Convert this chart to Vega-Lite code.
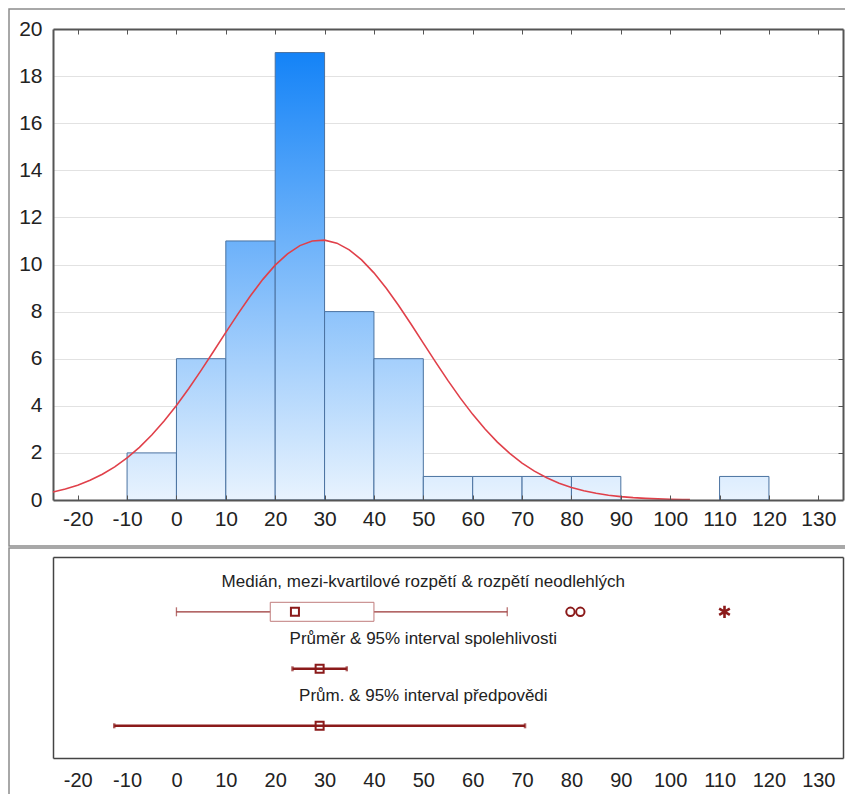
{
  "$schema": "https://vega.github.io/schema/vega-lite/v6.json",
  "background": "white",
  "padding": {"left": 8, "top": 8, "right": 0, "bottom": 0},
  "spacing": 0,
  "config": {
    "view": {"stroke": "#8c8c8c", "strokeWidth": 1.5},
    "font": "Liberation Sans, Arial, sans-serif",
    "axis": {
      "labelFont": "Liberation Sans, Arial, sans-serif",
      "labelColor": "#222222",
      "domainColor": "#555555",
      "tickColor": "#555555",
      "labelFlush": false,
      "labelOverlap": false,
      "labelExpr": "replace(datum.label, '\u2212', '-')"
    },
    "text": {"font": "Liberation Sans, Arial, sans-serif"}
  },
  "datasets": {
    "bins": [
      {"bin_start": -10, "bin_end": 0, "count": 2},
      {"bin_start": 0, "bin_end": 10, "count": 6},
      {"bin_start": 10, "bin_end": 20, "count": 11},
      {"bin_start": 20, "bin_end": 30, "count": 19},
      {"bin_start": 30, "bin_end": 40, "count": 8},
      {"bin_start": 40, "bin_end": 50, "count": 6},
      {"bin_start": 50, "bin_end": 60, "count": 1},
      {"bin_start": 60, "bin_end": 70, "count": 1},
      {"bin_start": 70, "bin_end": 80, "count": 1},
      {"bin_start": 80, "bin_end": 90, "count": 1},
      {"bin_start": 110, "bin_end": 120, "count": 1}
    ],
    "curve": [
      {"x": -25, "y": 0.342}, {"x": -22.5, "y": 0.467}, {"x": -20, "y": 0.629},
      {"x": -17.5, "y": 0.836}, {"x": -15, "y": 1.093}, {"x": -12.5, "y": 1.409},
      {"x": -10, "y": 1.789}, {"x": -7.5, "y": 2.238}, {"x": -5, "y": 2.761},
      {"x": -2.5, "y": 3.354}, {"x": 0, "y": 4.014}, {"x": 2.5, "y": 4.736},
      {"x": 5, "y": 5.505}, {"x": 7.5, "y": 6.306}, {"x": 10, "y": 7.117},
      {"x": 12.5, "y": 7.915}, {"x": 15, "y": 8.676}, {"x": 17.5, "y": 9.369},
      {"x": 20, "y": 9.971}, {"x": 22.5, "y": 10.454}, {"x": 25, "y": 10.802},
      {"x": 27.5, "y": 10.997}, {"x": 30, "y": 11.033}, {"x": 32.5, "y": 10.906},
      {"x": 35, "y": 10.624}, {"x": 37.5, "y": 10.198}, {"x": 40, "y": 9.646},
      {"x": 42.5, "y": 8.99}, {"x": 45, "y": 8.257}, {"x": 47.5, "y": 7.472},
      {"x": 50, "y": 6.663}, {"x": 52.5, "y": 5.855}, {"x": 55, "y": 5.069},
      {"x": 57.5, "y": 4.325}, {"x": 60, "y": 3.636}, {"x": 62.5, "y": 3.012},
      {"x": 65, "y": 2.459}, {"x": 67.5, "y": 1.978}, {"x": 70, "y": 1.568},
      {"x": 72.5, "y": 1.224}, {"x": 75, "y": 0.943}, {"x": 77.5, "y": 0.715},
      {"x": 80, "y": 0.534}, {"x": 82.5, "y": 0.393}, {"x": 85, "y": 0.285},
      {"x": 87.5, "y": 0.204}, {"x": 90, "y": 0.144}, {"x": 92.5, "y": 0.1},
      {"x": 95, "y": 0.068}, {"x": 97.5, "y": 0.046}, {"x": 100, "y": 0.031},
      {"x": 102.5, "y": 0.02}, {"x": 104, "y": 0.015}
    ],
    "stats": [
      {"stat": "box", "lo": 0, "q1": 19, "mid": 24, "q3": 40, "hi": 67, "label": "Medián, mezi-kvartilové rozpětí & rozpětí neodlehlých"},
      {"stat": "ci", "lo": 23.5, "mid": 29, "hi": 34.5, "label": "Průměr & 95% interval spolehlivosti"},
      {"stat": "pi", "lo": -12.6, "mid": 29, "hi": 70.6, "label": "Prům. & 95% interval předpovědi"}
    ],
    "outliers": [
      {"stat": "box", "value": 79.8, "kind": "outlier"},
      {"stat": "box", "value": 81.8, "kind": "outlier"},
      {"stat": "box", "value": 111, "kind": "extreme"}
    ]
  },
  "vconcat": [
    {
      "width": 838,
      "height": 537,
      "layer": [
        {
          "data": {"name": "bins"},
          "mark": {"type": "rect", "stroke": "#4a72a0", "strokeWidth": 1},
          "encoding": {
            "x": {
              "field": "bin_start", "type": "quantitative", "title": null,
              "scale": {"domain": [-25, 135], "range": [44, 834], "nice": false, "zero": false},
              "axis": {
                "orient": "bottom", "offset": -46, "zindex": 1,
                "values": [-20, -10, 0, 10, 20, 30, 40, 50, 60, 70, 80, 90, 100, 110, 120, 130],
                "labelFontSize": 21, "labelPadding": 13, "tickSize": -5, "domainWidth": 2, "grid": false
              }
            },
            "x2": {"field": "bin_end"},
            "y": {
              "field": "count", "type": "quantitative", "title": null,
              "scale": {"domain": [0, 20], "range": [491, 20], "nice": false},
              "axis": {
                "orient": "left", "offset": -44,
                "values": [0, 2, 4, 6, 8, 10, 12, 14, 16, 18, 20],
                "grid": true, "gridColor": "#e2e2e2", "ticks": false,
                "labelFontSize": 21, "labelPadding": 11, "domainWidth": 2
              }
            },
            "y2": {"datum": 0},
            "fill": {
              "condition": [
                {"test": "datum.count >= 19", "value": {"gradient": "linear", "x1": 0, "y1": 0, "x2": 0, "y2": 1, "stops": [{"offset": 0, "color": "#1483f7"}, {"offset": 1, "color": "#e8f3fe"}]}},
                {"test": "datum.count >= 11", "value": {"gradient": "linear", "x1": 0, "y1": 0, "x2": 0, "y2": 1, "stops": [{"offset": 0, "color": "#6cb1fa"}, {"offset": 1, "color": "#e8f3fe"}]}},
                {"test": "datum.count >= 8", "value": {"gradient": "linear", "x1": 0, "y1": 0, "x2": 0, "y2": 1, "stops": [{"offset": 0, "color": "#8dc3fb"}, {"offset": 1, "color": "#e8f3fe"}]}},
                {"test": "datum.count >= 6", "value": {"gradient": "linear", "x1": 0, "y1": 0, "x2": 0, "y2": 1, "stops": [{"offset": 0, "color": "#a4cffc"}, {"offset": 1, "color": "#e8f3fe"}]}},
                {"test": "datum.count >= 2", "value": {"gradient": "linear", "x1": 0, "y1": 0, "x2": 0, "y2": 1, "stops": [{"offset": 0, "color": "#d2e7fd"}, {"offset": 1, "color": "#e8f3fe"}]}}
              ],
              "value": {"gradient": "linear", "x1": 0, "y1": 0, "x2": 0, "y2": 1, "stops": [{"offset": 0, "color": "#ddedfe"}, {"offset": 1, "color": "#e8f3fe"}]}
            }
          }
        },
        {
          "data": {"name": "curve"},
          "mark": {"type": "line", "color": "#e0404a", "strokeWidth": 1.6},
          "encoding": {
            "x": {
              "field": "x", "type": "quantitative", "title": null,
              "axis": {
                "orient": "top", "offset": -20, "labels": false, "tickSize": -5, "domainWidth": 2, "grid": false,
                "values": [-20, -10, 0, 10, 20, 30, 40, 50, 60, 70, 80, 90, 100, 110, 120, 130]
              }
            },
            "y": {
              "field": "y", "type": "quantitative", "title": null,
              "axis": {
                "orient": "right", "offset": -4, "labels": false, "tickSize": -5, "domainWidth": 2, "grid": false,
                "values": [2, 4, 6, 8, 10, 12, 14, 16, 18]
              }
            }
          }
        }
      ],
      "resolve": {"axis": {"x": "independent", "y": "independent"}}
    },
    {
      "width": 838,
      "height": 260,
      "layer": [
        {
          "data": {"name": "stats"},
          "transform": [{"filter": "datum.stat == 'box'"}],
          "mark": {"type": "rule", "color": "#9a3434", "strokeWidth": 1.3},
          "encoding": {
            "x": {
              "field": "lo", "type": "quantitative", "title": null,
              "scale": {"domain": [-25, 135], "range": [44, 834], "nice": false, "zero": false},
              "axis": {
                "orient": "bottom", "offset": -50, "ticks": false, "grid": false,
                "values": [-20, -10, 0, 10, 20, 30, 40, 50, 60, 70, 80, 90, 100, 110, 120, 130],
                "labelFontSize": 20, "labelPadding": 12, "domainWidth": 1.5, "domainColor": "#444444"
              }
            },
            "x2": {"field": "hi"},
            "y": {
              "field": "stat", "type": "ordinal", "title": null,
              "scale": {"type": "point", "domain": ["box", "ci", "pi"], "range": [9, 210], "padding": 0.763, "align": 0.63},
              "axis": {"orient": "left", "offset": -44, "labels": false, "ticks": false, "grid": false, "domainWidth": 1.5, "domainColor": "#444444"}
            }
          }
        },
        {
          "data": {"name": "stats"},
          "transform": [{"filter": "datum.stat == 'box'"}],
          "mark": {"type": "bar", "size": 19, "fill": "white", "stroke": "#c07c7c", "strokeWidth": 1},
          "encoding": {
            "x": {
              "field": "q1", "type": "quantitative", "title": null,
              "axis": {"orient": "top", "offset": -9, "labels": false, "ticks": false, "grid": false, "domainWidth": 1.5, "domainColor": "#444444"}
            },
            "x2": {"field": "q3"},
            "y": {
              "field": "stat", "type": "ordinal", "title": null,
              "axis": {"orient": "right", "offset": -4, "labels": false, "ticks": false, "grid": false, "domainWidth": 1.5, "domainColor": "#444444"}
            }
          }
        },
        {
          "data": {"name": "stats"},
          "transform": [{"filter": "datum.stat != 'box'"}],
          "mark": {"type": "rule", "color": "#8b1a1a", "strokeWidth": 2.5},
          "encoding": {
            "x": {"field": "lo", "type": "quantitative", "axis": null},
            "x2": {"field": "hi"},
            "y": {"field": "stat", "type": "ordinal", "axis": null}
          }
        },
        {
          "data": {"name": "stats"},
          "transform": [{"filter": "datum.stat == 'box'"}, {"fold": ["lo", "hi"], "as": ["end", "value"]}],
          "mark": {"type": "tick", "color": "#9a3434", "size": 9, "thickness": 1.3},
          "encoding": {
            "x": {"field": "value", "type": "quantitative", "axis": null},
            "y": {"field": "stat", "type": "ordinal", "axis": null}
          }
        },
        {
          "data": {"name": "stats"},
          "transform": [{"filter": "datum.stat != 'box'"}, {"fold": ["lo", "hi"], "as": ["end", "value"]}],
          "mark": {"type": "tick", "color": "#8b1a1a", "size": 5, "thickness": 2.5},
          "encoding": {
            "x": {"field": "value", "type": "quantitative", "axis": null},
            "y": {"field": "stat", "type": "ordinal", "axis": null}
          }
        },
        {
          "data": {"name": "stats"},
          "mark": {"type": "point", "shape": "square", "filled": false, "size": 64, "strokeWidth": 2, "color": "#8b1a1a", "opacity": 1},
          "encoding": {
            "x": {"field": "mid", "type": "quantitative", "axis": null},
            "y": {"field": "stat", "type": "ordinal", "axis": null}
          }
        },
        {
          "data": {"name": "outliers"},
          "transform": [{"filter": "datum.kind == 'outlier'"}],
          "mark": {"type": "point", "shape": "circle", "filled": false, "size": 70, "strokeWidth": 2, "color": "#8b1a1a", "opacity": 1},
          "encoding": {
            "x": {"field": "value", "type": "quantitative", "axis": null},
            "y": {"field": "stat", "type": "ordinal", "axis": null}
          }
        },
        {
          "data": {"name": "outliers"},
          "transform": [{"filter": "datum.kind == 'extreme'"}],
          "mark": {"type": "point", "shape": "M0,-1L0,1M-0.87,-0.5L0.87,0.5M-0.87,0.5L0.87,-0.5", "filled": false, "size": 150, "strokeWidth": 2.6, "color": "#8b1a1a", "opacity": 1},
          "encoding": {
            "x": {"field": "value", "type": "quantitative", "axis": null},
            "y": {"field": "stat", "type": "ordinal", "axis": null}
          }
        },
        {
          "data": {"name": "stats"},
          "mark": {"type": "text", "dy": -30, "fontSize": 17, "color": "#222222", "align": "center", "baseline": "middle"},
          "encoding": {
            "x": {"datum": 50, "type": "quantitative", "axis": null},
            "y": {"field": "stat", "type": "ordinal", "axis": null},
            "text": {"field": "label"}
          }
        }
      ],
      "resolve": {"axis": {"x": "independent", "y": "independent"}}
    }
  ]
}
